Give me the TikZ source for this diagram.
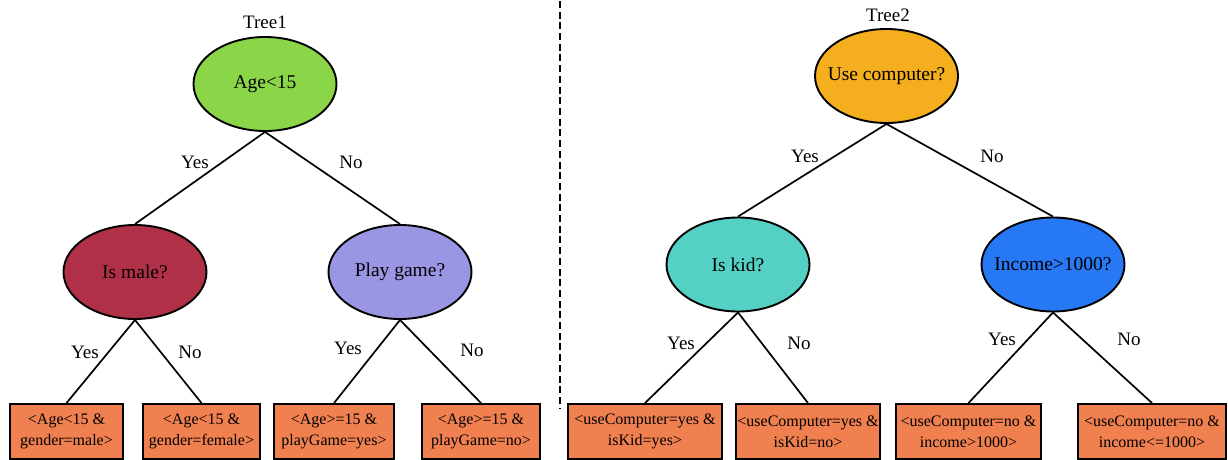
\documentclass[tikz,border=0pt]{standalone}
\usepackage{fontspec}
\setmainfont{Liberation Serif}
\usetikzlibrary{shapes.geometric}
\definecolor{cgreen}{RGB}{139,214,72}
\definecolor{cred}{RGB}{176,48,72}
\definecolor{clav}{RGB}{154,150,227}
\definecolor{corange}{RGB}{245,174,30}
\definecolor{cteal}{RGB}{85,208,197}
\definecolor{cblue}{RGB}{38,120,245}
\definecolor{cleaf}{RGB}{240,128,80}
\tikzset{
  dnode/.style={ellipse, draw=black, line width=1.9pt, minimum width=143pt, minimum height=94pt, inner sep=0pt,
    label={[font=\fontsize{19.5}{22}\selectfont, inner sep=0pt]center:#1}},
  leaf/.style={rectangle, draw=black, line width=1.9pt, fill=cleaf, minimum height=55pt, inner sep=0pt,
    align=center, font=\fontsize{16}{21}\selectfont},
  edge/.style={draw=black, line width=1.7pt},
  elab/.style={font=\fontsize{19}{22}\selectfont, inner sep=0pt},
  ttl/.style={font=\fontsize{19}{22}\selectfont, inner sep=0pt}
}
\begin{document}
\begin{tikzpicture}[x=1pt,y=-1pt]
\useasboundingbox (0,0) rectangle (1228,460);
% separator
\coordinate (sepT) at (560,1);
\coordinate (sepB) at (560,408);
\draw[line width=1.9pt, dash pattern=on 7pt off 3.7pt] (sepT) -- (sepB);

% Tree 1
\node[ttl] (t1) at (265,22) {Tree1};
\node[dnode={Age<15}, fill=cgreen] (a) at (265,84) {};
\node[dnode={Is male?}, fill=cred] (m) at (135,272) {};
\node[dnode={Play game?}, fill=clav] (g) at (400,272) {};
\node[leaf, minimum width=113pt] (l1) at (66.5,431.5) {<Age<15 \&\\gender=male>};
\node[leaf, minimum width=117pt] (l2) at (201.5,431.5) {<Age<15 \&\\gender=female>};
\node[leaf, minimum width=120pt] (l3) at (334,431.5) {<Age>=15 \&\\playGame=yes>};
\node[leaf, minimum width=118pt] (l4) at (481,431.5) {<Age>=15 \&\\playGame=no>};
\draw[edge] (a.south) -- (m.north);
\draw[edge] (a.south) -- (g.north);
\draw[edge] (m.south) -- (l1.north);
\draw[edge] (m.south) -- (l2.north);
\draw[edge] (g.south) -- (l3.north);
\draw[edge] (g.south) -- (l4.north);
\node[elab] (y1) at (195,162) {Yes};
\node[elab] (n1) at (351,162) {No};
\node[elab] (y2) at (85,352) {Yes};
\node[elab] (n2) at (190,352) {No};
\node[elab] (y3) at (348,348) {Yes};
\node[elab] (n3) at (472,350) {No};

% Tree 2
\node[ttl] (t2) at (888,15) {Tree2};
\node[dnode={Use computer?}, fill=corange] (u) at (886.5,76) {};
\node[dnode={Is kid?}, fill=cteal] (k) at (738,264.5) {};
\node[dnode={Income>1000?}, fill=cblue] (i) at (1053,264.5) {};
\node[leaf, minimum width=154pt] (r1) at (645,431.5) {<useComputer=yes \&\\isKid=yes>};
\node[leaf, minimum width=144pt] (r2) at (808,431.5) {<useComputer=yes \&\\isKid=no>};
\node[leaf, minimum width=145pt] (r3) at (968.5,431.5) {<useComputer=no \&\\income>1000>};
\node[leaf, minimum width=148pt] (r4) at (1152,431.5) {<useComputer=no \&\\income<=1000>};
\draw[edge] (u.south) -- (k.north);
\draw[edge] (u.south) -- (i.north);
\draw[edge] (k.south) -- (r1.north);
\draw[edge] (k.south) -- (r2.north);
\draw[edge] (i.south) -- (r3.north);
\draw[edge] (i.south) -- (r4.north);
\node[elab] (y4) at (805,156) {Yes};
\node[elab] (n4) at (992,156) {No};
\node[elab] (y5) at (681,343) {Yes};
\node[elab] (n5) at (799,343) {No};
\node[elab] (y6) at (1002,339) {Yes};
\node[elab] (n6) at (1129,339) {No};
\end{tikzpicture}
\end{document}
